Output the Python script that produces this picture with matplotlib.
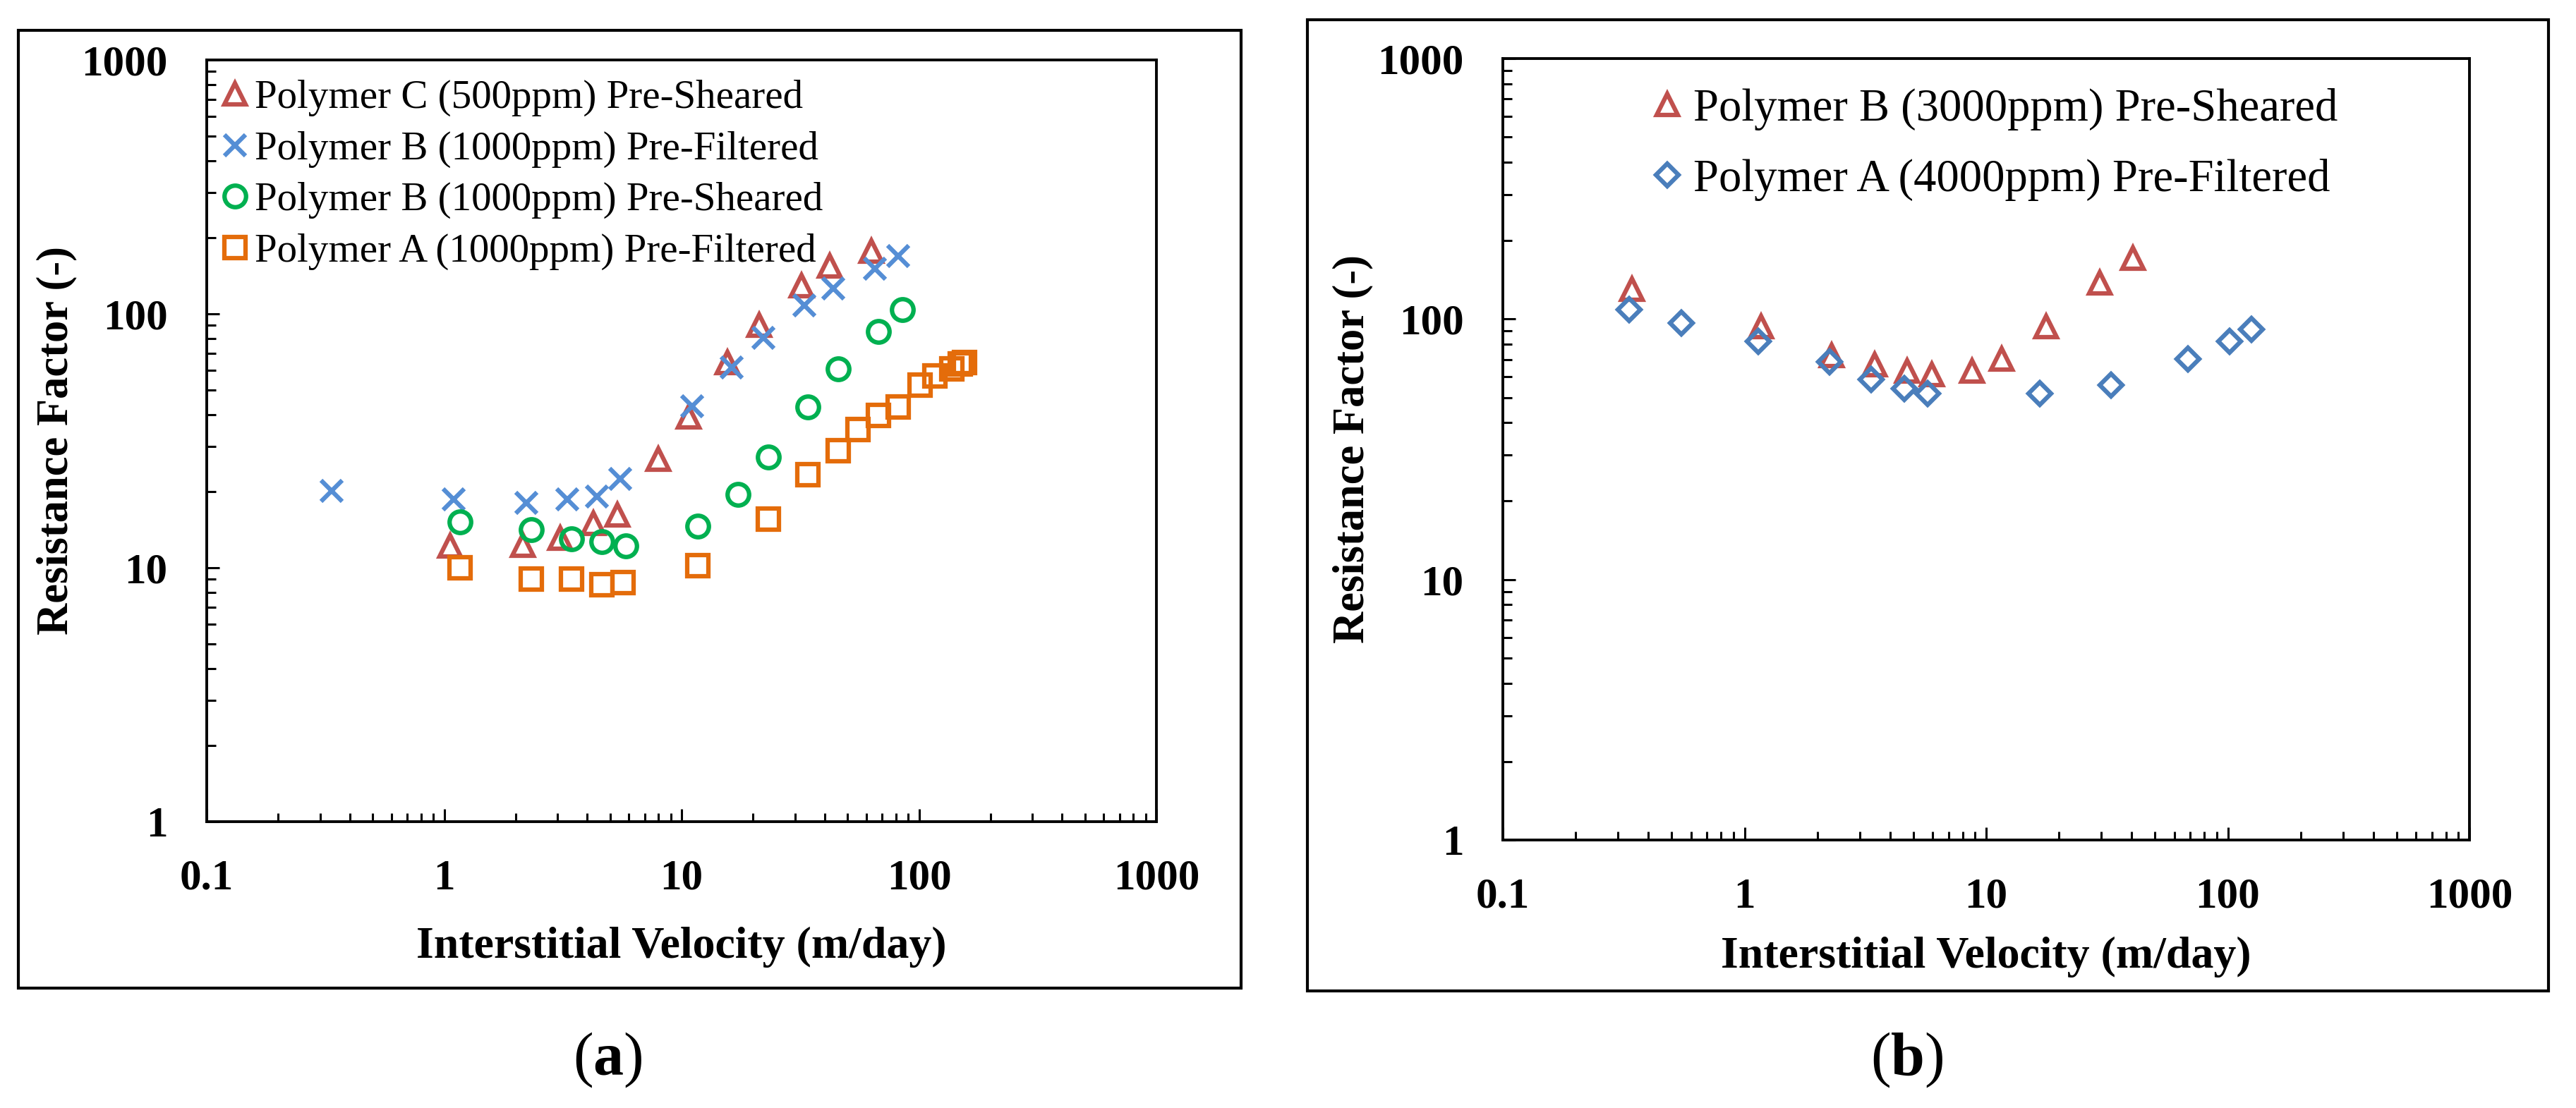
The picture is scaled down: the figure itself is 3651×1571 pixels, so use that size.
import matplotlib
matplotlib.use("Agg")
from matplotlib import pyplot as plt
from matplotlib.patches import Rectangle
from matplotlib.ticker import FixedLocator, LogLocator, NullFormatter

# panel (a)
c500_sheared_x = [1.06, 2.14, 3.08, 4.25, 5.37, 7.98, 10.7, 15.6, 21.2, 32.0, 42.2, 63.1]
c500_sheared_y = [12.2, 12.3, 13.1, 15.0, 16.2, 26.8, 39.3, 64.4, 90.5, 129, 154, 177]

b1000_filtered_x = [0.336, 1.10, 2.22, 3.30, 4.39, 5.50, 11.1, 16.3, 22.1, 33.0, 43.5, 65.1, 81.7]
b1000_filtered_y = [20.1, 18.6, 18.0, 18.6, 19.1, 22.4, 43.3, 61.6, 80.6, 108, 126, 151, 169]

b1000_sheared_x = [1.17, 2.33, 3.44, 4.60, 5.82, 11.7, 17.3, 23.2, 34.1, 45.7, 67.3, 85.1]
b1000_sheared_y = [15.2, 14.1, 13.0, 12.7, 12.2, 14.6, 19.4, 27.3, 43.0, 60.8, 85.4, 104]

a1000_filtered_x = [1.17, 2.33, 3.44, 4.60, 5.68, 11.7, 23.2, 34.1, 45.7, 55.5, 67.3, 81.7,
                    101, 117, 137, 149, 156]
a1000_filtered_y = [10.0, 9.0, 9.0, 8.56, 8.73, 10.2, 15.5, 23.3, 28.9, 35.1, 39.8, 43.0,
                    52.5, 57.0, 60.8, 63.6, 64.4]

# panel (b)
b3000_sheared_x = [0.342, 1.17, 2.30, 3.45, 4.70, 5.97, 8.73, 11.6, 17.7, 29.5, 40.5]
b3000_sheared_y = [130, 93.6, 72.4, 66.8, 63.1, 61.2, 63.1, 70.2, 93.6, 138, 171]

a4000_filtered_x = [0.334, 0.547, 1.14, 2.25, 3.34, 4.59, 5.74, 16.7, 32.9, 68.2, 102, 125]
a4000_filtered_y = [109, 96.6, 82.1, 68.5, 58.6, 54.0, 51.7, 51.7, 55.7, 70.2, 82.1, 91.3]

x_ticks = [0.1, 1, 10, 100, 1000]
x_tick_labels = ["0.1", "1", "10", "100", "1000"]
y_ticks = [1, 10, 100, 1000]
y_tick_labels = ["1", "10", "100", "1000"]

RED = "#C0504D"
BLUE_X = "#558ED5"
BLUE_D = "#4A7EBB"
GREEN = "#00B050"
ORANGE = "#E46C0A"

plt.rcParams["font.family"] = ["Liberation Serif", "DejaVu Serif"]
plt.rcParams["mathtext.fontset"] = "custom"
plt.rcParams["mathtext.rm"] = "Liberation Serif"
plt.rcParams["mathtext.bf"] = "Liberation Serif:bold"

W, H = 3651, 1571
fig = plt.figure(figsize=(W / 100, H / 100), dpi=100)


def fx(px):
  return px / W


def fy(py):
  return 1 - py / H


def style_axes(ax, xlabelpad):
  ax.set_xscale("log")
  ax.set_yscale("log")
  ax.set_xlim(0.1, 1000)
  ax.set_ylim(1, 1000)
  ax.xaxis.set_major_locator(FixedLocator(x_ticks))
  ax.set_xticklabels(x_tick_labels)
  ax.yaxis.set_major_locator(FixedLocator(y_ticks))
  ax.set_yticklabels(y_tick_labels)
  ax.xaxis.set_minor_locator(LogLocator(base=10, subs=range(2, 10)))
  ax.yaxis.set_minor_locator(LogLocator(base=10, subs=range(2, 10)))
  ax.xaxis.set_minor_formatter(NullFormatter())
  ax.yaxis.set_minor_formatter(NullFormatter())
  ax.tick_params(which="both", direction="in", width=2.2, top=False, right=False)
  ax.tick_params(which="major", length=13, labelsize=44)
  ax.tick_params(which="minor", length=9)
  ax.tick_params(axis="x", which="major", pad=38)
  ax.tick_params(axis="y", which="major", pad=40)
  for lab in ax.get_xticklabels() + ax.get_yticklabels():
    lab.set_fontweight("bold")
  for sp in ax.spines.values():
    sp.set_linewidth(2.8)
  ax.set_xlabel("Interstitial Velocity (m/day)", fontsize=46, fontweight="bold", labelpad=xlabelpad)
  ax.set_ylabel("Resistance Factor (-)", fontsize=45, fontweight="bold", labelpad=4)


mk = dict(linestyle="none", markersize=22, markeredgewidth=4.5, markerfacecolor="none")

# outer frames
for x0, y0, x1, y1 in [(26, 43, 1759, 1401), (1853, 28, 3612, 1405)]:
  fig.patches.append(Rectangle((fx(x0), fy(y1)), fx(x1) - fx(x0), fy(y0) - fy(y1),
                               transform=fig.transFigure, fill=False, edgecolor="black", linewidth=3))

ax1 = fig.add_axes([fx(293), fy(1165), fx(1639) - fx(293), fy(85) - fy(1165)])
ax1.plot(c500_sheared_x, c500_sheared_y, marker="^", color=RED, label="Polymer C (500ppm) Pre-Sheared", **mk)
ax1.plot(b1000_filtered_x, b1000_filtered_y, marker="x", color=BLUE_X, label="Polymer B (1000ppm) Pre-Filtered", **mk)
ax1.plot(b1000_sheared_x, b1000_sheared_y, marker="o", color=GREEN, label="Polymer B (1000ppm) Pre-Sheared", **mk)
ax1.plot(a1000_filtered_x, a1000_filtered_y, marker="s", color=ORANGE, label="Polymer A (1000ppm) Pre-Filtered", **mk)
style_axes(ax1, 29)
ax1.legend(loc="upper left", bbox_to_anchor=(0.004, 0.99), frameon=False, fontsize=41,
           handlelength=0.6, handletextpad=0.2, labelspacing=0.36, borderaxespad=0.2,
           borderpad=0.1)

ax2 = fig.add_axes([fx(2130), fy(1191), fx(3500) - fx(2130), fy(83) - fy(1191)])
ax2.plot(b3000_sheared_x, b3000_sheared_y, marker="^", color=RED, label="Polymer B (3000ppm) Pre-Sheared", **mk)
ax2.plot(a4000_filtered_x, a4000_filtered_y, marker="D", color=BLUE_D, label="Polymer A (4000ppm) Pre-Filtered",
         linestyle="none", markersize=16, markeredgewidth=4.5, markerfacecolor="none")
style_axes(ax2, 20)
ax2.legend(loc="upper left", bbox_to_anchor=(0.143, 0.98), frameon=False, fontsize=46.5,
           handlelength=0.55, handletextpad=0.3, labelspacing=0.62, borderaxespad=0.2,
           borderpad=0.1)

fig.text(fx(861), fy(1503), r"($\mathbf{a}$)", fontsize=62, ha="center", va="center")
fig.text(fx(2703), fy(1503), r"($\mathbf{b}$)", fontsize=62, ha="center", va="center")

fig.savefig("out.png", dpi=100)
